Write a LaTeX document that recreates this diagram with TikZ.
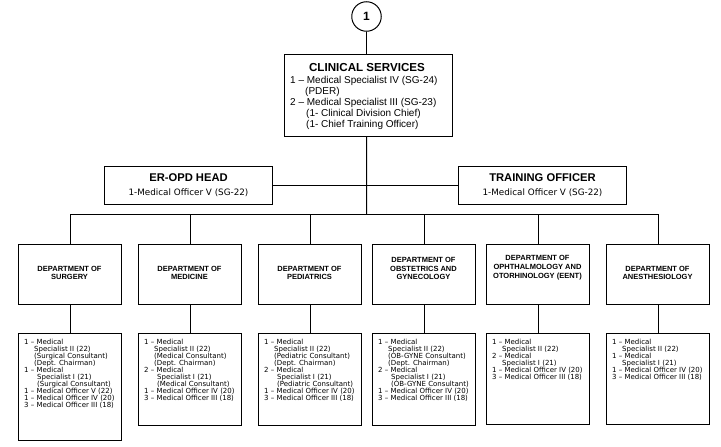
\documentclass[tikz,border=0pt]{standalone}
\usepackage{fontspec}
\setmainfont{Liberation Sans}
\newfontfamily\verdana{DejaVu Sans}
\newcommand\indA{\hspace*{10pt}}
\newcommand\indB{\hspace*{13pt}}
\tikzset{
  box/.style = {draw = black, line width = 1pt, inner sep = 0pt, anchor = north west},
  deptbox/.style = {box, minimum width = 103, minimum height = 60},
  posbox/.style = {box, minimum width = 103},
  link/.style = {draw = black, line width = 1pt},
  headbox/.style = {box, minimum width = 168, minimum height = 38.6, align = center, font = \bfseries\fontsize{11.2}{14.3}\selectfont},
  depttext/.style = {font = \bfseries\fontsize{7.5}{8.7}\selectfont, align = center, anchor = south, inner sep = 0pt},
  postext/.style = {font = \verdana\fontsize{7}{7.1}\selectfont, align = left, anchor = north west, inner sep = 0pt}
}
\begin{document}
\begin{tikzpicture}[x = 1pt, y = -1pt]
\useasboundingbox (0,0) rectangle (721,447);
\node[circle, draw = black, line width = 1pt, minimum size = 29.5, inner sep = 0pt, font = \bfseries\fontsize{12}{12}\selectfont] (one) at (366.5,16.5) {1};
\node[box, minimum width = 168, minimum height = 82] (clin) at (284,54) {};
\node[font = \bfseries\fontsize{11.6}{13}\selectfont, inner sep = 0pt] (clintitle) at (367,67.7) {CLINICAL SERVICES};
\node[font = \fontsize{10}{11}\selectfont, align = left, anchor = north west, inner sep = 0pt] (clinbody) at (290,76.5) {1 – Medical Specialist IV (SG-24)\\\hspace*{15pt}(PDER)\\2 – Medical Specialist III (SG-23)\\\hspace*{16pt}(1- Clinical Division Chief)\\\hspace*{16pt}(1- Chief Training Officer)};
\node[headbox] (er) at (104,165.7) {ER-OPD HEAD\\{\verdana\mdseries\fontsize{8.8}{14.3}\selectfont 1-Medical Officer V (SG-22)}};
\node[headbox] (train) at (458,165.7) {TRAINING OFFICER\\{\verdana\mdseries\fontsize{8.8}{14.3}\selectfont 1-Medical Officer V (SG-22)}};
\coordinate (bus) at (366.7,214.3);
\draw[link] (one.south) -- (one.south |- clin.north);
\draw[link] (one.south |- clin.south) -- (bus);
\draw[link] (er) -- (train);
\foreach \name/\x/\label in {surg/18/{DEPARTMENT OF\\SURGERY}, med/138/{DEPARTMENT OF\\MEDICINE}, ped/258/{DEPARTMENT OF\\PEDIATRICS}, obg/372/{DEPARTMENT OF\\OBSTETRICS AND\\GYNECOLOGY}, eent/486/{DEPARTMENT OF\\OPHTHALMOLOGY AND\\OTORHINOLOGY (EENT)}, anes/606/{DEPARTMENT OF\\ANESTHESIOLOGY}}
{
  \node[deptbox] (\name) at (\x,244) {};
  \node[depttext] (\name label) at (\x+51.5,280) {\label};
  \draw[link] (\name.north) -- (\name.north |- bus);
}
\draw[link] (surg.north |- bus) -- (anes.north |- bus);
\foreach \name/\h/\txt in {
  surg/107/{1 – Medical\\\indA Specialist II (22)\\\indA (Surgical Consultant)\\\indA (Dept. Chairman)\\1 – Medical\\\indB Specialist I (21)\\\indB (Surgical Consultant)\\1 – Medical Officer V (22)\\1 – Medical Officer IV (20)\\3 – Medical Officer III (18)},
  med/92/{1 – Medical\\\indA Specialist II (22)\\\indA (Medical Consultant)\\\indA (Dept. Chairman)\\2 – Medical\\\indB Specialist I (21)\\\indB (Medical Consultant)\\1 – Medical Officer IV (20)\\3 – Medical Officer III (18)},
  ped/92/{1 – Medical\\\indA Specialist II (22)\\\indA (Pediatric Consultant)\\\indA (Dept. Chairman)\\2 – Medical\\\indB Specialist I (21)\\\indB (Pediatric Consultant)\\1 – Medical Officer IV (20)\\3 – Medical Officer III (18)},
  obg/92/{1 – Medical\\\indA Specialist II (22)\\\indA (OB-GYNE Consultant)\\\indA (Dept. Chairman)\\2 – Medical\\\indB Specialist I (21)\\\indB (OB-GYNE Consultant)\\1 – Medical Officer IV (20)\\3 – Medical Officer III (18)},
  eent/91/{1 – Medical\\\indA Specialist II (22)\\2 – Medical\\\indA Specialist I (21)\\1 – Medical Officer IV (20)\\3 – Medical Officer III (18)},
  anes/91/{1 – Medical\\\indA Specialist II (22)\\1 – Medical\\\indA Specialist I (21)\\1 – Medical Officer IV (20)\\3 – Medical Officer III (18)}}
{
  \node[posbox, minimum height = \h] (\name pos) at (\name.south west |- 0,333) {};
  \node[postext] (\name list) at ([xshift = 6pt, yshift = -5.5pt]\name pos.north west) {\txt};
  \draw[link] (\name) -- (\name pos);
}
\end{tikzpicture}
\end{document}
